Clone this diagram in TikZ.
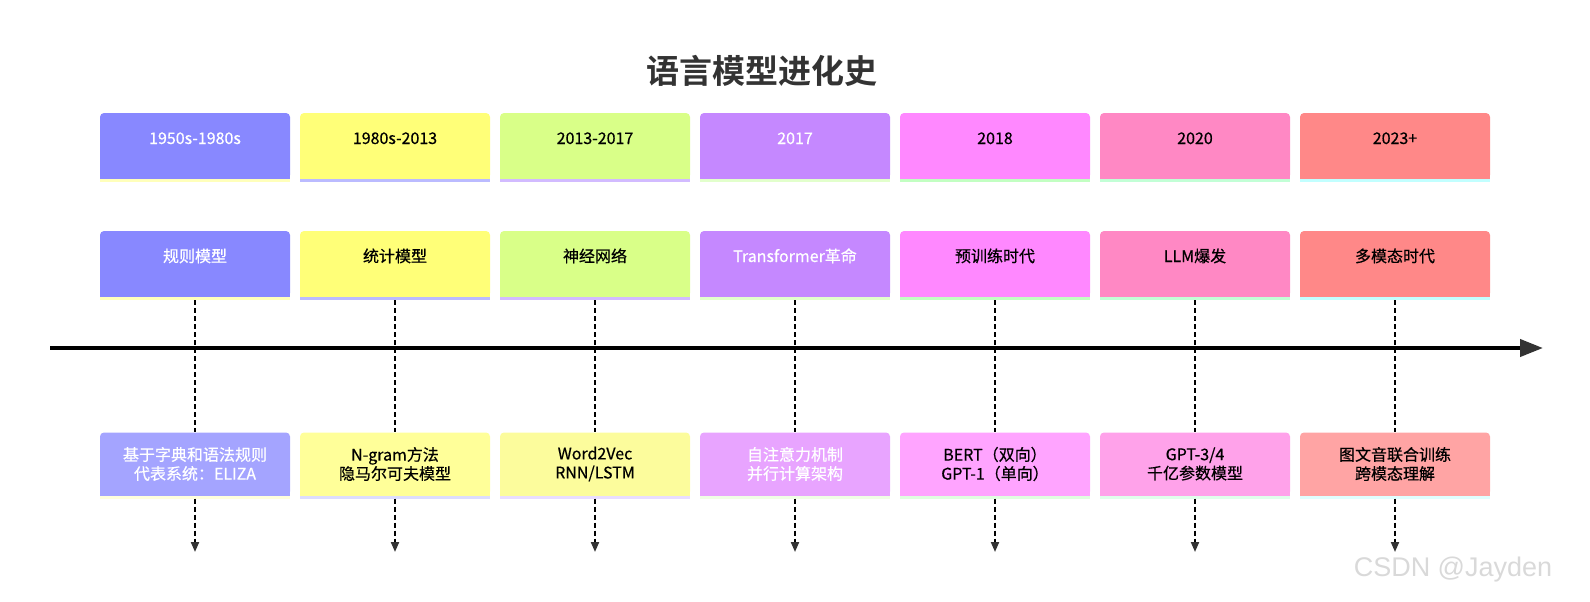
\documentclass[tikz,border=0pt]{standalone}
\usepackage{fontspec}
\setmainfont{Noto Sans CJK SC}[BoldFont={Noto Sans CJK SC Bold}]
\newfontfamily\boxfont{Noto Sans CJK SC}[RawFeature={embolden=0.5}]
\newfontfamily\markfont{Liberation Sans}
\usetikzlibrary{arrows.meta}

\definecolor{hdA}{HTML}{8888FF}
\definecolor{hdB}{HTML}{FFFF78}
\definecolor{hdC}{HTML}{D9FF88}
\definecolor{hdD}{HTML}{C588FF}
\definecolor{hdE}{HTML}{FF88FF}
\definecolor{hdF}{HTML}{FF88C4}
\definecolor{hdG}{HTML}{FF8888}
\definecolor{dtA}{HTML}{A4A4FF}
\definecolor{dtB}{HTML}{FFFF99}
\definecolor{dtC}{HTML}{FCFC9C}
\definecolor{dtD}{HTML}{E8A4FF}
\definecolor{dtE}{HTML}{FFA4FF}
\definecolor{dtF}{HTML}{FFA2EA}
\definecolor{dtG}{HTML}{FFA4A4}
\definecolor{stA}{HTML}{FFFFBB}
\definecolor{stB}{HTML}{BBBBFF}
\definecolor{stC}{HTML}{D2BBFF}
\definecolor{stD}{HTML}{E2FFCC}
\definecolor{stE}{HTML}{C2FFC2}
\definecolor{stF}{HTML}{C2FFD6}
\definecolor{stG}{HTML}{C2FFFF}
\definecolor{inkgray}{HTML}{333333}

\begin{document}
\begin{tikzpicture}
    [x=1pt,y=-1pt,
     box/.style={rounded corners=4pt,minimum width=190pt,inner sep=0pt,align=center,
                 font=\boxfont\fontsize{16}{19}\selectfont},
     hbox/.style={box,minimum height=66pt,text height=12pt,text depth=16pt},
     dbox/.style={box,minimum height=63pt},
     link/.style={draw=black,line width=2pt,dash pattern=on 5pt off 3pt}]
      \useasboundingbox (0,0) rectangle (1590,602);

      \node (title)[font=\fontsize{33}{40}\selectfont\bfseries,text=inkgray] at (762,71) {语言模型进化史};

      % timeline
      \coordinate (t0) at (50,348);
      \coordinate (t1) at (1543,348);
      \draw[line width=4pt,-{Triangle[length=23pt,width=17pt,color=inkgray]}] (t0) -- (t1);

      \foreach \i/\yr/\era/\info/\hc/\dc/\sc/\tc [evaluate=\i as \cx using 195+200*(\i-1)] in
        {1/1950s-1980s/规则模型/{基于字典和语法规则\\代表系统：ELIZA}/hdA/dtA/stA/white,
         2/1980s-2013/统计模型/{N-gram方法\\隐马尔可夫模型}/hdB/dtB/stB/black,
         3/2013-2017/神经网络/{Word2Vec\\RNN/LSTM}/hdC/dtC/stC/black,
         4/2017/Transformer革命/{自注意力机制\\并行计算架构}/hdD/dtD/stD/white,
         5/2018/预训练时代/{BERT（双向）\\GPT-1（单向）}/hdE/dtE/stE/black,
         6/2020/LLM爆发/{GPT-3/4\\千亿参数模型}/hdF/dtF/stF/black,
         7/2023+/多模态时代/{图文音联合训练\\跨模态理解}/hdG/dtG/stG/black}
      {
        \node (h\i)[hbox,fill=\hc,text=\tc] at (\cx,146) {\yr};
        \fill[\hc] ([yshift=5pt]h\i.south west) rectangle (h\i.south east);
        \fill[\sc] (h\i.south west) rectangle ([yshift=-3pt]h\i.south east);

        \node (p\i)[hbox,fill=\hc,text=\tc] at (\cx,264) {\era};
        \fill[\hc] ([yshift=5pt]p\i.south west) rectangle (p\i.south east);
        \fill[\sc] (p\i.south west) rectangle ([yshift=-3pt]p\i.south east);

        \node (d\i)[dbox,fill=\dc,text=\tc] at (\cx,464) {\info};
        \fill[\dc] ([yshift=5pt]d\i.south west) rectangle (d\i.south east);
        \fill[\sc!50!white] (d\i.south west) rectangle ([yshift=-3pt]d\i.south east);

        \coordinate (e\i) at (\cx,552);
        \draw[link] ([yshift=-3pt]p\i.south) -- (d\i.north);
        \draw[link,-{Triangle[length=10pt,width=8pt,color=inkgray]}] ([yshift=-3pt]d\i.south) -- (e\i);
      }

      \node (mark)[font=\markfont\fontsize{27}{30}\selectfont,text=gray!30] at (1453,570) {CSDN @Jayden};
    \end{tikzpicture}
\end{document}
